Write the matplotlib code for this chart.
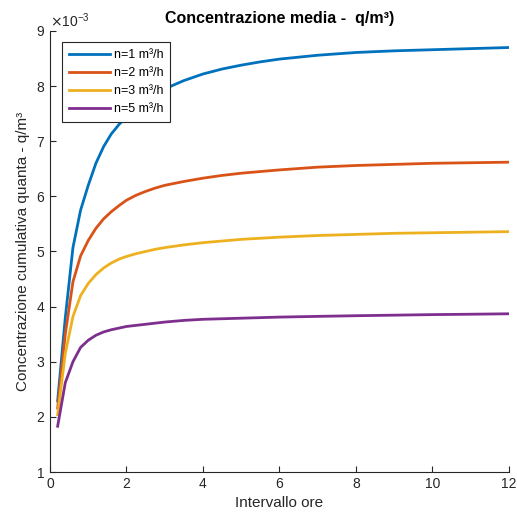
import numpy as np
import matplotlib
matplotlib.use('Agg')
import matplotlib.pyplot as plt
from matplotlib.ticker import ScalarFormatter

plt.rcParams['font.family'] = ['Liberation Sans', 'DejaVu Sans']

# hours
ore = [0.2, 0.4, 0.6, 0.8, 1.0, 1.2, 1.4, 1.6, 1.8, 2.0, 2.25, 2.5, 2.75, 3.0,
       3.5, 4.0, 4.5, 5.0, 5.5, 6.0, 7.0, 8.0, 9.0, 10.0, 11.0, 12.0]

# concentrazione (x 1e-3 q/m3)
n1 = [2.29, 3.8, 5.07, 5.75, 6.2, 6.6, 6.9, 7.13, 7.3, 7.45, 7.6, 7.73, 7.85, 7.95,
      8.1, 8.22, 8.31, 8.38, 8.44, 8.49, 8.56, 8.61, 8.64, 8.66, 8.68, 8.7]
n2 = [2.16, 3.5, 4.45, 4.92, 5.2, 5.42, 5.59, 5.72, 5.83, 5.93, 6.02, 6.09, 6.15, 6.2,
      6.27, 6.33, 6.38, 6.42, 6.45, 6.48, 6.53, 6.56, 6.58, 6.6, 6.61, 6.62]
n3 = [2.04, 3.15, 3.82, 4.2, 4.42, 4.58, 4.7, 4.79, 4.86, 4.91, 4.96, 5.0, 5.04, 5.07,
      5.12, 5.16, 5.19, 5.22, 5.24, 5.26, 5.29, 5.31, 5.33, 5.34, 5.35, 5.36]
n5 = [1.83, 2.62, 3.0, 3.26, 3.39, 3.48, 3.54, 3.58, 3.61, 3.64, 3.66, 3.68, 3.7, 3.72,
      3.75, 3.77, 3.78, 3.79, 3.8, 3.81, 3.823, 3.835, 3.845, 3.855, 3.862, 3.87]

etichette = ['n=1 m³/h', 'n=2 m³/h', 'n=3 m³/h', 'n=5 m³/h']
colori = ['#0072BD', '#D95319', '#EDB120', '#7E2F8E']

fig = plt.figure(figsize=(5.17, 5.18), dpi=100)
ax = fig.add_axes([0.0967, 0.0888, 0.8878, 0.8514])

for serie, lab, col in zip([n1, n2, n3, n5], etichette, colori):
    ax.plot(ore, np.array(serie) * 1e-3, color=col, lw=2, label=lab)

ax.set_xlim(0, 12)
ax.set_ylim(1e-3, 9e-3)
ax.set_xticks(np.arange(0, 13, 2))
ax.set_yticks(np.arange(1, 10) * 1e-3)
fmt = ScalarFormatter(useMathText=True)
fmt.set_powerlimits((-2, 2))
ax.yaxis.set_major_formatter(fmt)
ax.yaxis.get_offset_text().set_fontsize(10)
ax.yaxis.get_offset_text().set_color('#262626')

for s in ['top', 'right']:
    ax.spines[s].set_visible(False)
for s in ['left', 'bottom']:
    ax.spines[s].set_color('#262626')
ax.tick_params(direction='in', length=4, labelsize=10, colors='#262626')

ax.set_xlabel('Intervallo ore', fontsize=11, color='#262626')
ax.set_ylabel('Concentrazione cumulativa quanta - q/m³', fontsize=11, color='#262626')
ax.set_title('Concentrazione media -  q/m³)', fontsize=11.5, fontweight='bold')

leg = ax.legend(loc='upper left', bbox_to_anchor=(0.026, 0.975), borderaxespad=0,
                fontsize=9, fancybox=False, framealpha=1, edgecolor='#262626',
                handlelength=3.3, handletextpad=0.3, borderpad=0.55, labelspacing=0.48)
leg.get_frame().set_linewidth(0.8)

fig.savefig('out.png', dpi=100)
